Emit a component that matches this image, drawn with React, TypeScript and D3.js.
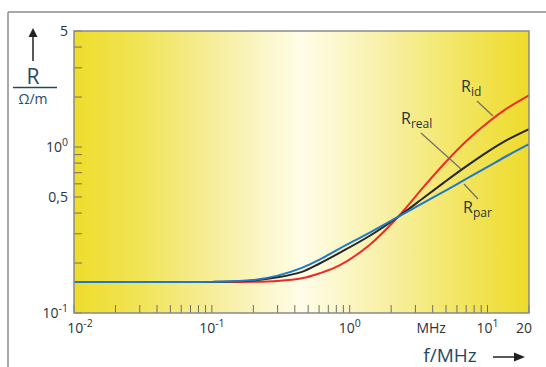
import React from "react";
import * as d3 from "d3";

const freqs = [0.01, 0.05, 0.1, 0.2, 0.3, 0.45, 0.6, 0.85, 1.4, 2.24, 3.5, 5, 7, 10, 14, 20];
const rId = [0.154, 0.154, 0.154, 0.154, 0.156, 0.162, 0.173, 0.194, 0.258, 0.379, 0.585, 0.815, 1.084, 1.4, 1.72, 2.05];
const rReal = [0.154, 0.154, 0.154, 0.157, 0.164, 0.177, 0.198, 0.231, 0.292, 0.379, 0.5, 0.624, 0.764, 0.935, 1.107, 1.282];
const rPar = [0.154, 0.154, 0.154, 0.158, 0.168, 0.187, 0.209, 0.245, 0.305, 0.379, 0.466, 0.548, 0.642, 0.758, 0.889, 1.04];

const xTickLabels = [
  { v: 0.01, base: "10", sup: "-2", dx: 6 },
  { v: 0.1, base: "10", sup: "-1", dx: 0 },
  { v: 1, base: "10", sup: "0", dx: 0 },
  { v: 3.9, base: "MHz", sup: "", dx: 0 },
  { v: 10, base: "10", sup: "1", dx: 0 },
  { v: 20, base: "20", sup: "", dx: -5 },
];
const yTickLabels = [
  { v: 5, base: "5", sup: "" },
  { v: 1, base: "10", sup: "0" },
  { v: 0.5, base: "0,5", sup: "" },
  { v: 0.1, base: "10", sup: "-1" },
];

const series = [
  { name: "id", values: rId, color: "#ee2a24" },
  { name: "real", values: rReal, color: "#262626" },
  { name: "par", values: rPar, color: "#1f78c8" },
];

const W = 546;
const H = 367;
const L = 74, R = 529, T = 31, B = 313;
const FONT = "'Open Sans', 'Noto Sans', sans-serif";
const TXT = "#2b333d";
const TITLE = "#1f4a66";

export default function App() {
  const x = d3.scaleLog().domain([0.01, 20]).range([L, R]);
  const y = d3.scaleLog().domain([0.1, 5]).range([B, T]);
  const xTicks = x.ticks();
  const yTicks = y.ticks();
  const line = (vals: number[]) =>
    d3
      .line<number>()
      .x((_, i) => x(freqs[i]))
      .y((d) => y(d))
      .curve(d3.curveCatmullRom.alpha(0.5))(vals) as string;

  return (
    <svg width={W} height={H} style={{ position: "absolute", left: 0, top: 0, display: "block", background: "#fff" }}>
      <defs>
        <linearGradient id="bg" x1="0" x2="1" y1="0" y2="0">
          <stop offset="0" stopColor="#eedc2a" />
          <stop offset="0.15" stopColor="#f1e459" />
          <stop offset="0.33" stopColor="#f7efa4" />
          <stop offset="0.5" stopColor="#fffde8" />
          <stop offset="0.67" stopColor="#f8f1ab" />
          <stop offset="0.85" stopColor="#f2e562" />
          <stop offset="1" stopColor="#eedb2a" />
        </linearGradient>
        <clipPath id="clip">
          <rect x={L} y={T} width={R - L} height={B - T} />
        </clipPath>
      </defs>
      {/* outer frame */}
      <line x1={8} y1={12} x2={546} y2={12} stroke="#8d8d8d" strokeWidth={1.5} />
      <line x1={8} y1={12} x2={8} y2={367} stroke="#8d8d8d" strokeWidth={1.5} />

      <rect x={L} y={T} width={R - L} height={B - T} fill="url(#bg)" />

      {/* ticks */}
      {xTicks.map((t, i) => (
        <line key={"xt" + i} x1={x(t)} x2={x(t)} y1={B} y2={B - 8} stroke="#6f6f6f" strokeWidth={1} />
      ))}
      {yTicks.map((t, i) => (
        <line key={"yt" + i} x1={L} x2={L + 8} y1={y(t)} y2={y(t)} stroke="#6f6f6f" strokeWidth={1} />
      ))}

      {/* curves */}
      <g clipPath="url(#clip)">
        {series.map((s) => (
          <path key={s.name} d={line(s.values)} fill="none" stroke={s.color} strokeWidth={2} />
        ))}
      </g>

      <rect x={L} y={T} width={R - L} height={B - T} fill="none" stroke="#8a8a8a" strokeWidth={1.5} />

      {/* leader lines */}
      <line x1={477} y1={101} x2={493} y2={116} stroke="#6e6e6e" strokeWidth={1.2} />
      <line x1={421} y1={133} x2={461} y2={169} stroke="#6e6e6e" strokeWidth={1.2} />
      <line x1={464} y1={184} x2={478} y2={199} stroke="#6e6e6e" strokeWidth={1.2} />

      {/* curve labels */}
      <text x={461} y={92} fontFamily={FONT} fontSize={16} fill={TXT}>
        R<tspan fontSize={12} dy={4}>id</tspan>
      </text>
      <text x={401} y={124} fontFamily={FONT} fontSize={16} fill={TXT}>
        R<tspan fontSize={12} dy={4}>real</tspan>
      </text>
      <text x={463} y={213} fontFamily={FONT} fontSize={16} fill={TXT}>
        R<tspan fontSize={12} dy={4}>par</tspan>
      </text>

      {/* x tick labels */}
      {xTickLabels.map((l, i) => (
        <text key={"xl" + i} x={x(l.v) + l.dx} y={333} textAnchor="middle" fontFamily={FONT} fontSize={14} fill={TXT}>
          {l.base}
          {l.sup && (
            <tspan fontSize={10.5} dy={-6}>
              {l.sup}
            </tspan>
          )}
        </text>
      ))}
      {/* y tick labels */}
      {yTickLabels.map((l, i) => (
        <text key={"yl" + i} x={68} y={y(l.v) + 5} textAnchor="end" fontFamily={FONT} fontSize={14} fill={TXT}>
          {l.base}
          {l.sup && (
            <tspan fontSize={10.5} dy={-6}>
              {l.sup}
            </tspan>
          )}
        </text>
      ))}

      {/* y axis title */}
      <line x1={33} y1={61} x2={33} y2={36} stroke="#222" strokeWidth={1.5} />
      <path d="M28.5,37 L33,28 L37.5,37 Z" fill="#222" />
      <text x={33} y={84} textAnchor="middle" fontFamily={FONT} fontSize={21} fill={TITLE}>
        R
      </text>
      <line x1={13} y1={87.5} x2={57} y2={87.5} stroke={TITLE} strokeWidth={1.5} />
      <text x={33} y={104} textAnchor="middle" fontFamily={FONT} fontSize={14} fill={TITLE}>
        Ω/m
      </text>

      {/* x axis title */}
      <text x={450} y={362} textAnchor="middle" fontFamily={FONT} fontSize={19} fill={TITLE}>
        f/MHz
      </text>
      <line x1={493} y1={357} x2={516} y2={357} stroke="#222" strokeWidth={1.5} />
      <path d="M514,352.5 L525,357 L514,361.5 Z" fill="#222" />
    </svg>
  );
}
